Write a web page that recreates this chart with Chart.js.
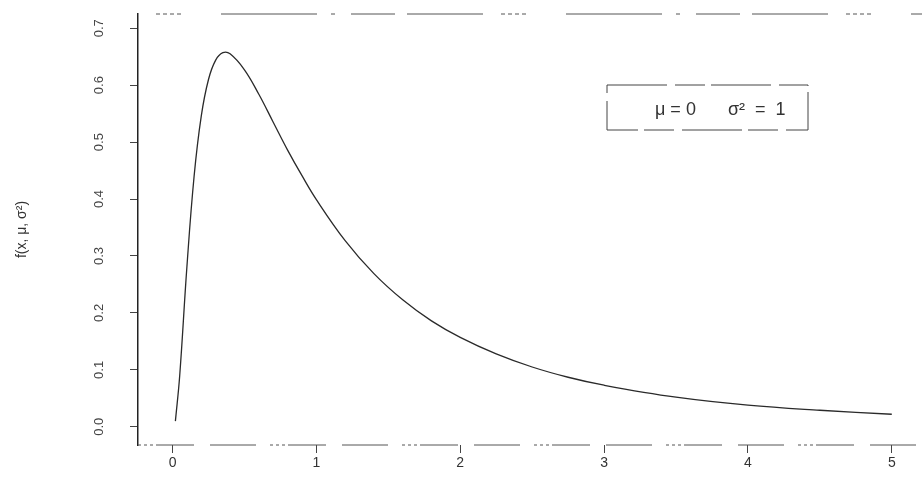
<!DOCTYPE html>
<html>
<head>
<meta charset="utf-8">
<script src="https://cdn.jsdelivr.net/npm/chart.js@4.4.1/dist/chart.umd.min.js"></script>
<style>
  html, body { margin: 0; background: #fff; }
  #wrap { width: 922px; height: 484px; }
</style>
</head>
<body>
<div id="wrap"><canvas id="chart"></canvas></div>
<script>
// lognormal density, mu = 0, sigma^2 = 1
const xs = [0.02, 0.05, 0.1, 0.15, 0.2, 0.25, 0.3, 0.35, 0.4, 0.5, 0.6, 0.7, 0.8, 0.9, 1.0,
            1.2, 1.4, 1.6, 1.8, 2.0, 2.25, 2.5, 2.75, 3.0, 3.5, 4.0, 4.5, 5.0];
const ys = [0.010, 0.090, 0.281, 0.440, 0.546, 0.610, 0.644, 0.657, 0.655, 0.627, 0.584, 0.535, 0.486, 0.441, 0.399,
            0.327, 0.269, 0.223, 0.186, 0.157, 0.128, 0.105, 0.087, 0.073, 0.052, 0.038, 0.029, 0.022];

const xTicks = [0, 1, 2, 3, 4, 5];
const yTicks = [0, 0.1, 0.2, 0.3, 0.4, 0.5, 0.6, 0.7];
const yTickLabels = ["0.0", "0.1", "0.2", "0.3", "0.4", "0.5", "0.6", "0.7"];
const yTitle = "f(x, μ, σ²)";
const legendParts = ["μ = 0", "σ²  =  1"];

const font = "'Liberation Sans', Arial, sans-serif";

// dashed top/bottom frame lines + legend box like R's legend()
const frame = {
  id: "frame",
  beforeDatasetsDraw(chart) {
    const { ctx, chartArea: a } = chart;
    ctx.save();
    ctx.strokeStyle = "#555";
    ctx.lineWidth = 1;
    ctx.setLineDash([4, 3, 4, 3, 4, 3, 4, 40, 96, 14, 4, 16, 44, 12, 76, 18]);
    ctx.beginPath();
    ctx.moveTo(a.left + 18, a.top);
    ctx.lineTo(a.right, a.top);
    ctx.stroke();
    ctx.setLineDash([3, 3, 3, 3, 3, 3, 38, 16, 46, 14]);
    ctx.beginPath();
    ctx.moveTo(a.left, a.bottom);
    ctx.lineTo(a.right, a.bottom);
    ctx.stroke();
    ctx.restore();
  },
  afterDraw(chart) {
    const ctx = chart.ctx;
    ctx.save();
    ctx.strokeStyle = "#444";
    ctx.lineWidth = 1;
    ctx.setLineDash([60, 8, 30, 6]);
    ctx.strokeRect(607, 85, 201, 45);
    ctx.setLineDash([]);
    ctx.fillStyle = "#333";
    ctx.font = "18px " + font;
    ctx.textBaseline = "middle";
    ctx.textAlign = "left";
    ctx.fillText(legendParts[0], 655, 110);
    ctx.fillText(legendParts[1], 728, 110);
    ctx.restore();
  }
};

new Chart(document.getElementById("chart"), {
  type: "line",
  data: {
    datasets: [{
      data: xs.map((x, i) => ({ x, y: ys[i] })),
      borderColor: "#2a2a2a",
      borderWidth: 1.3,
      pointRadius: 0,
      tension: 0.4,
      fill: false
    }]
  },
  options: {
    responsive: true,
    maintainAspectRatio: false,
    animation: false,
    layout: { padding: { top: 14, right: 0, left: 0, bottom: 0 } },
    plugins: { legend: { display: false }, tooltip: { enabled: false } },
    scales: {
      x: {
        type: "linear",
        min: -0.24,
        max: 5.21,
        afterBuildTicks: s => { s.ticks = xTicks.map(v => ({ value: v })); },
        afterFit: s => { s.height = 39; s.paddingLeft = 0; s.paddingRight = 0; },
        ticks: { color: "#333", font: { family: font, size: 14 }, padding: 2, callback: v => String(v) },
        grid: { drawOnChartArea: false, tickLength: 8, color: "#444" },
        border: { display: false }
      },
      y: {
        min: -0.032,
        max: 0.725,
        afterBuildTicks: s => { s.ticks = yTicks.map(v => ({ value: v })); },
        afterFit: s => { s.width = 138; s.paddingTop = 0; s.paddingBottom = 0; },
        ticks: {
          color: "#444",
          font: { family: font, size: 13 },
          minRotation: 90,
          maxRotation: 90,
          crossAlign: "center",
          padding: 22,
          callback: v => yTickLabels[yTicks.indexOf(Math.round(v * 10) / 10)]
        },
        grid: { drawOnChartArea: false, tickLength: 8, color: "#444" },
        border: { color: "#222", width: 1.5 },
        title: { display: true, text: yTitle, color: "#333", font: { family: font, size: 14 }, padding: { top: 14, bottom: 0 } }
      }
    }
  },
  plugins: [frame]
});
</script>
</body>
</html>
